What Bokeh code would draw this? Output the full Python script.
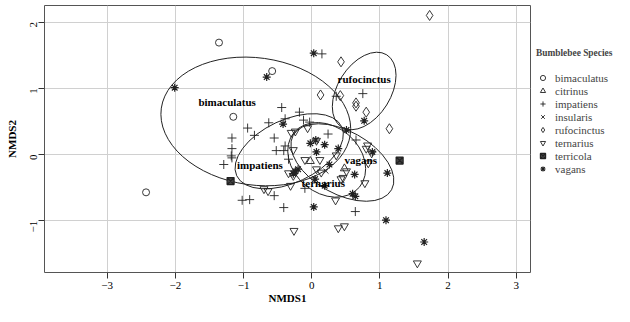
import math
from bokeh.plotting import figure
from bokeh.layouts import row
from bokeh.models import Legend, LegendItem, FixedTicker, ColumnDataSource
from bokeh.core.properties import value
from bokeh.embed import file_html
from bokeh.resources import INLINE

FONT = "Liberation Serif"

# ---- data (NMDS scores) ----
bimaculatus_x = [-2.43, -1.36, -1.15, -0.58]
bimaculatus_y = [-0.57, 1.69, 0.57, 1.26]

citrinus_x = [-0.02, 0.48]
citrinus_y = [-0.10, -0.21]

impatiens_x = [-1.29, -1.18, -1.17, -1.17, -1.17, -1.02, -0.91, -0.94, -0.84, -0.63,
               -0.55, -0.52, -0.44, -0.41, -0.39, -0.39, -0.34, -0.55, -0.41, -0.18,
               -0.12, -0.03, 0.24, 0.65, 0.36, 0.75, 0.15, 0.64, -0.10]
impatiens_y = [-0.15, -0.02, -0.05, 0.09, 0.25, -0.69, -0.68, 0.40, 0.29, 0.48,
               0.25, 0.06, 0.71, 0.06, 0.13, 0.54, -0.07, -0.62, -0.80, 0.64,
               0.52, 0.49, 0.31, 0.22, 0.88, 0.92, 1.52, -0.86, -0.51]

insularis_x = [0.21]
insularis_y = [-0.25]

rufocinctus_x = [1.73, 0.43, 0.13, 0.42, 0.65, 0.65, 0.80, 1.14]
rufocinctus_y = [2.10, 1.40, 0.90, 0.89, 0.78, 0.73, 0.64, 0.39]

ternarius_x = [-0.70, -0.64, -0.34, -0.27, -0.31, -0.26, 0.39, 0.48, 1.55, 0.35,
               0.78, -0.10, 0.12, 0.07, 0.14, 0.36, 0.51, 0.43, 0.46, 0.80,
               0.82, 0.88, 0.83, -0.30, -0.24, -0.06, -0.27, 0.07]
ternarius_y = [-0.52, -0.55, -0.28, -0.32, -0.47, -1.15, -1.11, -1.08, -1.64, -0.69,
               -0.43, -0.08, -0.08, -0.22, -0.27, -0.01, -0.25, -0.37, -0.35, 0.09,
               0.14, 0.02, -0.13, 0.33, 0.35, 0.40, 0.07, 0.21]

terricola_x = [-1.19, 1.29]
terricola_y = [-0.40, -0.09]

vagans_x = [-2.01, -0.66, 0.03, -0.42, 0.77, 0.51, -0.02, 0.06, 0.19, 0.07,
            0.39, 0.26, 0.63, 1.11, 0.05, 0.60, 0.64, 0.89, -0.24, -0.20,
            -0.27, 0.03, 0.19, 1.09, 1.65]
vagans_y = [1.01, 1.17, 1.53, 0.46, 0.51, 0.37, 0.17, 0.22, 0.15, 0.04,
            0.09, -0.15, -0.30, -0.28, -0.37, -0.59, -0.63, 0.04, -0.25, -0.22,
            -0.29, -0.79, -0.47, -0.99, -1.32]

# ellipses (ordiellipse style): centre, full width/height, angle (deg)
ell_names = ["bimaculatus", "impatiens", "rufocinctus", "vagans", "ternarius"]
ell_cx = [-0.82, -0.33, 0.77, 0.45, 0.22]
ell_cy = [0.50, 0.05, 0.96, -0.12, -0.08]
ell_w = [2.80, 1.70, 1.25, 1.65, 1.25]
ell_h = [1.92, 0.95, 0.80, 0.95, 1.00]
ell_ang = [-8, 25, 58, -29, -40]

label_x = [-1.24, -0.76, 0.77, 0.72, 0.17]
label_y = [0.80, -0.15, 1.14, -0.08, -0.43]

x_ticks = [-3, -2, -1, 0, 1, 2, 3]
y_ticks = [-1, 0, 1, 2]

species = ["bimaculatus", "citrinus", "impatiens", "insularis",
           "rufocinctus", "ternarius", "terricola", "vagans"]

# ---- main figure ----
p = figure(width=535, height=306, output_backend="svg", toolbar_location=None,
           x_range=(-3.92, 3.21), y_range=(-1.78, 2.25),
           min_border_left=44, min_border_top=5, min_border_bottom=0,
           min_border_right=5)
p.background_fill_color = "white"
p.border_fill_color = "white"
p.outline_line_color = "#555555"
p.outline_line_width = 1

for ax in (p.xaxis, p.yaxis):
    ax.axis_line_color = None
    ax.major_tick_line_color = "#333333"
    ax.major_tick_out = 6
    ax.major_tick_in = 0
    ax.minor_tick_line_color = None
    ax.major_label_text_font = FONT
    ax.major_label_text_font_size = "11px"
    ax.major_label_text_color = "black"
    ax.axis_label_text_font = FONT
    ax.axis_label_text_font_style = "bold"
    ax.axis_label_text_font_size = "11px"
    ax.axis_label_text_color = "black"

p.xaxis.ticker = FixedTicker(ticks=x_ticks)
p.yaxis.ticker = FixedTicker(ticks=y_ticks)
p.xaxis.axis_label = "NMDS1"
p.yaxis.axis_label = "NMDS2"
p.yaxis.major_label_orientation = math.pi / 2
p.xaxis.major_label_standoff = 3
p.xaxis.axis_label_standoff = 0
p.yaxis.major_label_standoff = 5
p.yaxis.axis_label_standoff = 6

p.xgrid.ticker = FixedTicker(ticks=x_ticks)
p.ygrid.ticker = FixedTicker(ticks=y_ticks)
p.grid.grid_line_color = "#d0d0d0"
p.grid.grid_line_width = 1

# ellipses
esrc = ColumnDataSource(dict(x=ell_cx, y=ell_cy, w=ell_w, h=ell_h,
                             a=[math.radians(a) for a in ell_ang]))
p.ellipse(x="x", y="y", width="w", height="h", angle="a", source=esrc,
          fill_alpha=0, line_color="#222222", line_width=1)

MC = "#222222"
STYLES = {
    "bimaculatus": dict(marker="circle", size=7, fill_alpha=0, line_width=0.9),
    "citrinus": dict(marker="triangle", size=8, fill_alpha=0, line_width=0.9),
    "impatiens": dict(marker="cross", size=9, line_width=0.9),
    "insularis": dict(marker="x", size=7, line_width=0.9),
    "rufocinctus": dict(marker="diamond", size=10, fill_alpha=0, line_width=0.9),
    "ternarius": dict(marker="inverted_triangle", size=8, fill_alpha=0, line_width=0.9),
    "terricola": dict(marker="square_x", size=7, fill_color="#444444", line_width=1.2),
    "vagans": dict(marker="asterisk", size=8, line_width=1.2),
}
DATA = {
    "bimaculatus": (bimaculatus_x, bimaculatus_y),
    "citrinus": (citrinus_x, citrinus_y),
    "impatiens": (impatiens_x, impatiens_y),
    "insularis": (insularis_x, insularis_y),
    "rufocinctus": (rufocinctus_x, rufocinctus_y),
    "ternarius": (ternarius_x, ternarius_y),
    "terricola": (terricola_x, terricola_y),
    "vagans": (vagans_x, vagans_y),
}
for sp in species:
    xs, ys = DATA[sp]
    p.scatter(xs, ys, line_color=MC, **STYLES[sp])

# ellipse labels
p.text(x=label_x, y=label_y, text=ell_names, text_font=value(FONT),
       text_font_style="bold", text_font_size="11px", text_color="black",
       text_align="center", text_baseline="middle")

# ---- legend panel ----
lf = figure(width=79, height=306, output_backend="svg", toolbar_location=None,
            x_axis_type=None, y_axis_type=None, x_range=(0, 1), y_range=(0, 1),
            min_border=0)
lf.outline_line_color = None
lf.grid.visible = False
items = []
for sp in species:
    # legend swatches only: the single point lies outside this panel's range
    r = lf.scatter([-5], [-5], line_color=MC, **STYLES[sp])
    items.append(LegendItem(label=sp, renderers=[r]))

legend = Legend(items=items, location=(1, 97))
legend.title = "Bumblebee Species"
legend.title_text_font = FONT
legend.title_text_font_style = "bold"
legend.title_text_font_size = "9.4px"
legend.title_standoff = 13
legend.label_text_font = FONT
legend.label_text_font_size = "11px"
legend.label_height = 13
legend.glyph_height = 13
legend.glyph_width = 13
legend.label_standoff = 6
legend.spacing = 0
legend.padding = 0
legend.margin = 0
legend.border_line_color = None
legend.background_fill_alpha = 0
lf.add_layout(legend, "center")

open("out.html", "w").write(file_html(row(p, lf), INLINE))
